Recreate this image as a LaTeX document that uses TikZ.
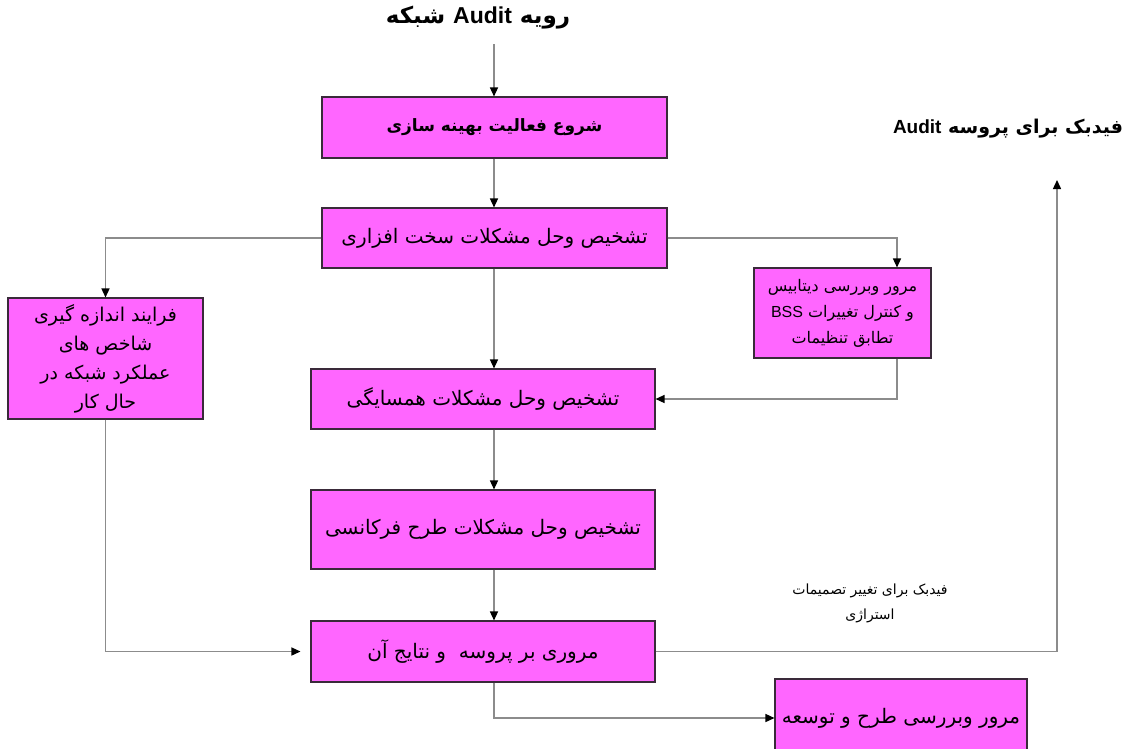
\documentclass[tikz,border=0pt]{standalone}
\usepackage{fontspec}
\usetikzlibrary{arrows.meta,calc}
\TeXXeTstate=1
\newfontfamily\fa[Script=Arabic]{DejaVu Sans}
\newfontfamily\lat{Liberation Sans}
\definecolor{boxfill}{HTML}{FF66FF}
\definecolor{boxborder}{HTML}{3A2A3A}
\definecolor{linegray}{HTML}{8C8C8C}
\tikzset{
  box/.style={draw=boxborder, fill=boxfill, line width=1.1pt, align=center, inner sep=2pt,
    font=\fa\fontsize{20}{24}\selectfont},
  conn/.style={draw=linegray, line width=1.4pt},
  arr/.style={conn, -{Triangle[length=9pt,width=8pt,color=black]}},
  lbl/.style={align=center, inner sep=0pt},
}
\begin{document}
\begin{tikzpicture}[x=1pt,y=-1pt]
\clip (0,0) rectangle (1129,748);
\fill[white] (0,0) rectangle (1129,748);

% title
\node[lbl, font=\fa\bfseries\fontsize{23}{26}\selectfont] (title) at (478,18)
  {\beginR رویه \beginL{\lat\bfseries Audit}\endL{} شبکه\endR};
\coordinate (tstart) at (494,44);

% boxes
\node[box, minimum width=345pt, minimum height=61pt, font=\fa\bfseries\fontsize{17}{24}\selectfont] (b1) at (494.5,127.5)
  {\beginR شروع فعالیت بهینه سازی\endR};
\node[box, minimum width=345pt, minimum height=60pt] (b2) at (494.5,238)
  {\beginR تشخیص وحل مشکلات سخت افزاری\endR};
\node[box, minimum width=195pt, minimum height=121pt, font=\fa\fontsize{19}{29}\selectfont] (b3) at (105.5,358.5)
  {\beginR فرایند اندازه گیری\endR\\ \beginR شاخص های\endR\\ \beginR عملکرد شبکه در\endR\\ \beginR حال کار\endR};
\node[box, minimum width=177pt, minimum height=90pt, font=\fa\fontsize{16}{26}\selectfont] (b4) at (842.5,313)
  {\beginR مرور وبررسی دیتابیس\endR\\ {\lat BSS} \beginR و کنترل تغییرات\endR\\ \beginR تطابق تنظیمات\endR};
\node[box, minimum width=344pt, minimum height=60pt] (b5) at (483,399)
  {\beginR تشخیص وحل مشکلات همسایگی\endR};
\node[box, minimum width=344pt, minimum height=79pt] (b6) at (483,529.5)
  {\beginR تشخیص وحل مشکلات طرح فرکانسی\endR};
\node[box, minimum width=344pt, minimum height=61pt] (b7) at (483,651.5)
  {\beginR مروری بر پروسه\ \ و نتایج آن\endR};
\node[box, minimum width=252pt, minimum height=78pt, inner sep=0pt] (b8) at (901,718)
  {\beginR مرور وبررسی طرح و توسعه\endR};

% labels
\node[lbl, font=\fa\bfseries\fontsize{19}{22}\selectfont] (fbtop) at (1008,129)
  {\beginR فیدبک برای پروسه\ \beginL{\lat\bfseries Audit}\endL\endR};
\node[lbl, font=\fa\fontsize{14}{25}\selectfont] (fbmid) at (870,603)
  {\beginR فیدبک برای تغییر تصمیمات\endR\\ \beginR استراژی\endR};

% helper coordinates
\coordinate (mx) at (494,0);
\coordinate (rx) at (897,0);
\coordinate (fb) at (1057,180);

% connectors
\draw[arr] (tstart) -- (tstart |- b1.north);
\draw[arr] (b1.south -| mx) -- (b2.north -| mx);
\draw[arr] (b2.south -| mx) -- (b5.north -| mx);
\draw[arr] (b5.south -| mx) -- (b6.north -| mx);
\draw[arr] (b6.south -| mx) -- (b7.north -| mx);
\draw[arr] (b2.west) -| (b3.north);
\draw[arr] (b2.east) -| (b4.north -| rx);
\draw[arr] (b4.south -| rx) |- (b5.east);
\draw[arr, shorten >=10pt] (b3.south) |- (b7.west);
\draw[arr] (b7.south -| mx) |- (b8.west);
\draw[arr] (b7.east) -| (fb);
\end{tikzpicture}
\end{document}
